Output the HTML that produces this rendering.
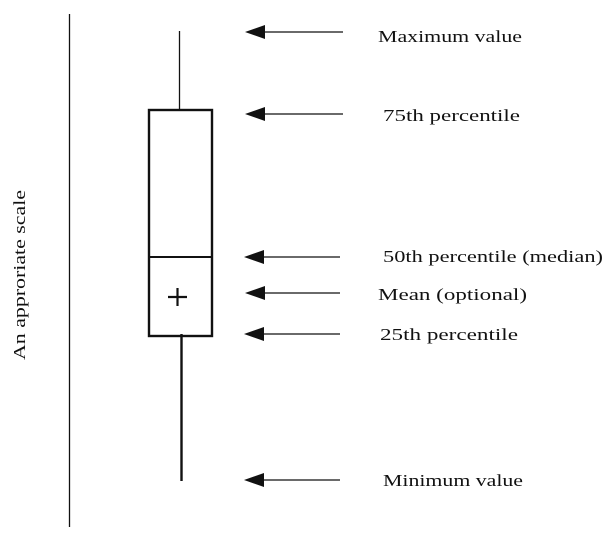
<!DOCTYPE html>
<html><head><style>
body{margin:0;background:#fff;}
svg{display:block}
text{font-family:"Liberation Serif",serif;font-size:17px;fill:#111}
</style></head><body>
<svg width="615" height="539" viewBox="0 0 615 539" xmlns="http://www.w3.org/2000/svg">
<line x1="69.5" y1="14" x2="69.5" y2="527" stroke="#111" stroke-width="1.3"/>
<text transform="translate(25,360) rotate(-90)" font-size="15" textLength="170" lengthAdjust="spacingAndGlyphs">An  approriate  scale</text>
<line x1="179.5" y1="31" x2="179.5" y2="110" stroke="#111" stroke-width="1.3"/>
<rect x="149" y="110" width="63" height="226" fill="none" stroke="#111" stroke-width="2.4"/>
<line x1="149" y1="257" x2="212" y2="257" stroke="#111" stroke-width="2"/>
<line x1="168" y1="297" x2="187" y2="297" stroke="#111" stroke-width="2.2"/>
<line x1="177.5" y1="288" x2="177.5" y2="306" stroke="#111" stroke-width="2.2"/>
<line x1="181.5" y1="334" x2="181.5" y2="481" stroke="#111" stroke-width="2.4"/>
<g stroke="#111" stroke-width="1.3" fill="#111">
<line x1="258" y1="32" x2="343" y2="32"/><polygon points="245,32 265,25 265,39" stroke="none"/>
<line x1="258" y1="114" x2="343" y2="114"/><polygon points="245,114 265,107 265,121" stroke="none"/>
<line x1="258" y1="257" x2="340" y2="257"/><polygon points="244,257 264,250 264,264" stroke="none"/>
<line x1="258" y1="293" x2="340" y2="293"/><polygon points="245,293 265,286 265,300" stroke="none"/>
<line x1="258" y1="334" x2="340" y2="334"/><polygon points="244,334 264,327 264,341" stroke="none"/>
<line x1="258" y1="480" x2="340" y2="480"/><polygon points="244,480 264,473 264,487" stroke="none"/>
</g>
<text x="378" y="42" textLength="144" lengthAdjust="spacingAndGlyphs">Maximum value</text>
<text x="383" y="121" textLength="137" lengthAdjust="spacingAndGlyphs">75th percentile</text>
<text x="383" y="262" textLength="220" lengthAdjust="spacingAndGlyphs">50th percentile (median)</text>
<text x="378" y="300" textLength="149" lengthAdjust="spacingAndGlyphs">Mean (optional)</text>
<text x="380" y="340" textLength="138" lengthAdjust="spacingAndGlyphs">25th percentile</text>
<text x="383" y="486" textLength="140" lengthAdjust="spacingAndGlyphs">Minimum value</text>
</svg>
</body></html>
